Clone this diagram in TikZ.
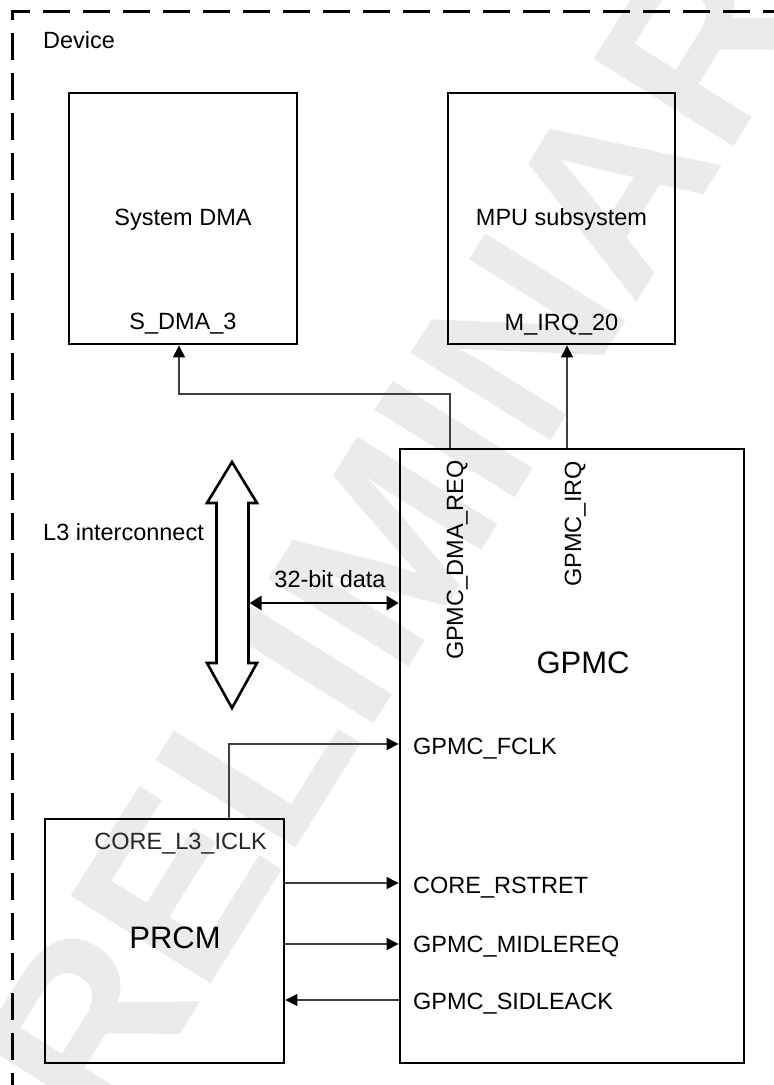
\documentclass[tikz,border=0pt]{standalone}
\usepackage{fontspec}
\setmainfont{Liberation Sans}
\usetikzlibrary{arrows.meta}
\begin{document}
\begin{tikzpicture}[x=1pt,y=-1pt,
  blk/.style={draw, line width=2.8pt, inner sep=0pt},
  conn/.style={line width=1.1pt, draw=black!75, -{Triangle[length=12pt,width=12pt,color=black]}},
  lbl/.style={font=\fontsize{23.5}{28}\selectfont, inner sep=0pt},
  big/.style={font=\fontsize{31}{36}\selectfont, inner sep=0pt},
  wmark/.style={rotate=58, text=black!8, inner sep=0pt, font=\fontsize{240}{240}\selectfont\bfseries}]
\useasboundingbox (0,0) rectangle (774,1085);
\clip (0,0) rectangle (774,1085);
% watermark
\node[wmark] (wm) at (392,539) {PRELIMINARY};
% device border
\draw[line width=3pt, dash pattern=on 27pt off 13pt] (12,1100) -- (12,11) -- (790,11);
\node[lbl, anchor=base west] (dev) at (43,48.5) {Device};
% boxes
\node[blk, minimum width=228pt, minimum height=251pt] (dma) at (183,218.5) {};
\node[blk, minimum width=227pt, minimum height=251pt] (mpu) at (561.5,218.5) {};
\node[blk, minimum width=344pt, minimum height=614pt] (gpmc) at (572,756) {};
\node[blk, minimum width=239pt, minimum height=244pt] (prcm) at (164.5,941) {};
% box texts
\node[lbl, anchor=base] (dmat) at (183,225) {System DMA};
\node[lbl, anchor=base] (dmap) at (183,329) {S\_DMA\_3};
\node[lbl, anchor=base] (mput) at (561.5,225) {MPU subsystem};
\node[lbl, anchor=base] (mpup) at (561.5,330) {M\_IRQ\_20};
\node[big, anchor=base] (gpmct) at (583,673) {GPMC};
\node[big, anchor=base] (prcmt) at (175,948) {PRCM};
\node[lbl, anchor=base east, text=black!85] (iclk) at (267,849) {CORE\_L3\_ICLK};
\node[lbl, anchor=base east, rotate=90] (dmareq) at (463,460) {GPMC\_DMA\_REQ};
\node[lbl, anchor=base east, rotate=90] (irq) at (581,461) {GPMC\_IRQ};
\node[lbl, anchor=base west] (fclk) at (413,754) {GPMC\_FCLK};
\node[lbl, anchor=base west] (rst) at (413,893) {CORE\_RSTRET};
\node[lbl, anchor=base west] (midle) at (413,952) {GPMC\_MIDLEREQ};
\node[lbl, anchor=base west] (sidle) at (413,1009) {GPMC\_SIDLEACK};
% L3 interconnect
\node[lbl, anchor=base west] (l3t) at (43,540) {L3 interconnect};
\draw[line width=2.6pt, fill=white, line join=miter]
  (232,462) -- (257,503) -- (248.5,503) -- (248.5,663) -- (257,663) -- (232,708)
  -- (207,663) -- (216.5,663) -- (216.5,503) -- (207,503) -- cycle;
\coordinate (l3r) at (249.5,603);
\draw[line width=2.6pt, {Triangle[length=12pt,width=14pt]}-{Triangle[length=12pt,width=14pt]}]
  (l3r) -- (l3r -| gpmc.west);
\node[lbl, anchor=base] (bus) at (330,587) {32-bit data};
% connectors
\coordinate (c1) at (179,394);
\coordinate (c2) at (450,394);
\draw[conn] (gpmc.north -| c2) -- (c2) -- (c1) -- (dma.south -| c1);
\coordinate (c3) at (567,400);
\draw[conn] (gpmc.north -| c3) -- (mpu.south -| c3);
\coordinate (c4) at (229,744);
\draw[conn] (prcm.north -| c4) -- (c4) -- (c4 -| gpmc.west);
\coordinate (c5) at (0,883);
\draw[conn] (c5 -| prcm.east) -- (c5 -| gpmc.west);
\coordinate (c6) at (0,944);
\draw[conn] (c6 -| prcm.east) -- (c6 -| gpmc.west);
\coordinate (c7) at (0,1000);
\draw[conn] (c7 -| gpmc.west) -- (c7 -| prcm.east);
\end{tikzpicture}
\end{document}
